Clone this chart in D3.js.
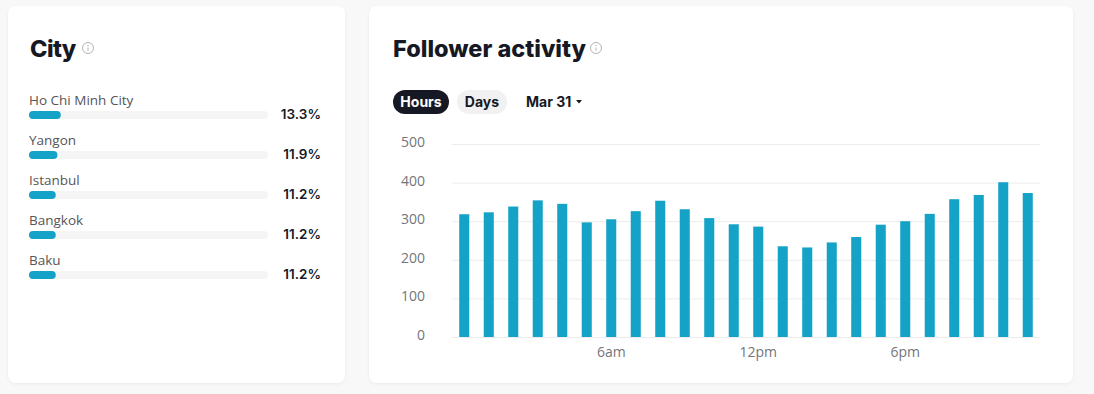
<!DOCTYPE html>
<html>
<head>
<meta charset="utf-8">
<script src="https://cdn.jsdelivr.net/npm/d3@7"></script>
<style>
  html, body { margin: 0; padding: 0; background: #f8f8f8; }
  svg { display: block; }
  .title { font-family: Inter, "Noto Sans", sans-serif; font-weight: 800; fill: #161823; }
  .axis-label { font-family: "Open Sans", sans-serif; font-size: 14px; fill: #73757b; }
  .city-label { font-family: "Open Sans", sans-serif; font-size: 13.5px; fill: #555; }
  .pct-label { font-family: Inter, "Noto Sans", sans-serif; font-size: 13.5px; font-weight: 600; fill: #161823; }
  .btn { font-family: Inter, "Noto Sans", sans-serif; font-size: 14px; font-weight: 700; }
</style>
</head>
<body>
<div id="chart"></div>
<script>
const cities = ["Ho Chi Minh City", "Yangon", "Istanbul", "Bangkok", "Baku"]
const cityShares = [13.3, 11.9, 11.2, 11.2, 11.2]

const hours = d3.range(24)
const followers = [318, 323, 338, 354, 345, 297, 305, 326, 353, 331, 308, 292,
                   286, 235, 232, 245, 259, 291, 300, 319, 357, 368, 401, 373]
const yTicks = [0, 100, 200, 300, 400, 500]
const hourLabels = {6: "6am", 12: "12pm", 18: "6pm"}

const BAR_COLOR = "#14a3c7"
const W = 1094, H = 394

const svg = d3.select("#chart").append("svg")
  .attr("width", W)
  .attr("height", H)

const defs = svg.append("defs")
const shadow = defs.append("filter").attr("id", "shadow")
  .attr("x", "-5%").attr("y", "-5%").attr("width", "110%").attr("height", "110%")
shadow.append("feDropShadow")
  .attr("dx", 0).attr("dy", 1).attr("stdDeviation", 1.5)
  .attr("flood-color", "#000").attr("flood-opacity", 0.06)

function card(x, y, w, h) {
  svg.append("rect")
    .attr("x", x).attr("y", y)
    .attr("width", w).attr("height", h)
    .attr("rx", 8)
    .attr("fill", "#fff")
    .attr("filter", "url(#shadow)")
}

function infoIcon(g, cx, cy) {
  g.append("circle")
    .attr("cx", cx).attr("cy", cy).attr("r", 5.5)
    .attr("fill", "none").attr("stroke", "#b4b4b8").attr("stroke-width", 1)
  g.append("line")
    .attr("x1", cx).attr("x2", cx).attr("y1", cy - 0.5).attr("y2", cy + 2.8)
    .attr("stroke", "#b4b4b8").attr("stroke-width", 1)
  g.append("circle")
    .attr("cx", cx).attr("cy", cy - 2.5).attr("r", 0.7)
    .attr("fill", "#b4b4b8")
}

card(8, 6, 337, 377)
card(369, 6, 704, 377)

/*********************************************
// City card
*********************************************/
const cityG = svg.append("g")

cityG.append("text")
  .classed("title", true)
  .attr("x", 30).attr("y", 57)
  .attr("font-size", "23.5px")
  .attr("letter-spacing", "-0.6px")
  .text("City")
infoIcon(cityG, 88, 48)

const shareScale = d3.scaleLinear().domain([0, 100]).range([0, 239])
const rowY = d3.scaleLinear().domain([0, 1]).range([100, 140])

const rows = cityG.selectAll("g.city-row")
  .data(cities.map((c, i) => ({city: c, share: cityShares[i]}))).enter()
  .append("g")
  .classed("city-row", true)
  .attr("transform", (_, i) => `translate(29,${rowY(i)})`)

rows.append("text")
  .classed("city-label", true)
  .attr("x", 0).attr("y", 5)
  .text((d) => d.city)

rows.append("rect")
  .attr("x", 0).attr("y", 11)
  .attr("width", shareScale(100)).attr("height", 8)
  .attr("rx", 4)
  .attr("fill", "#f5f5f6")

rows.append("rect")
  .attr("x", 0).attr("y", 11)
  .attr("width", (d) => shareScale(d.share)).attr("height", 8)
  .attr("rx", 4)
  .attr("fill", BAR_COLOR)

rows.append("text")
  .classed("pct-label", true)
  .attr("x", 292).attr("y", 19)
  .attr("text-anchor", "end")
  .text((d) => d.share.toFixed(1) + "%")

/*********************************************
// Follower activity card
*********************************************/
const actG = svg.append("g")

actG.append("text")
  .classed("title", true)
  .attr("x", 393).attr("y", 57)
  .attr("font-size", "23.5px")
  .text("Follower activity")
infoIcon(actG, 596, 48)

// toggle buttons
actG.append("rect")
  .attr("x", 393).attr("y", 90).attr("width", 56).attr("height", 24)
  .attr("rx", 12).attr("fill", "#161823")
actG.append("text")
  .classed("btn", true)
  .attr("x", 421).attr("y", 107).attr("text-anchor", "middle")
  .attr("fill", "#fff")
  .text("Hours")
actG.append("rect")
  .attr("x", 457).attr("y", 90).attr("width", 50).attr("height", 24)
  .attr("rx", 12).attr("fill", "#f1f1f2")
actG.append("text")
  .classed("btn", true)
  .attr("x", 482).attr("y", 107).attr("text-anchor", "middle")
  .attr("fill", "#161823")
  .text("Days")
actG.append("text")
  .classed("btn", true)
  .attr("x", 526).attr("y", 107)
  .attr("fill", "#161823")
  .text("Mar 31")
actG.append("path")
  .attr("d", "M576,100 l6,0 l-3,3.5 z")
  .attr("fill", "#161823")

const x = d3.scaleBand()
  .domain(hours)
  .range([452, 1040])
  .paddingInner(0.59)
  .paddingOuter(0.295)

const y = d3.scaleLinear()
  .domain([0, 500])
  .range([337, 144])

actG.selectAll("line.grid-line")
  .data(yTicks).enter()
  .append("line")
  .classed("grid-line", true)
  .attr("x1", 452).attr("x2", 1040)
  .attr("y1", (d) => y(d) + 0.5).attr("y2", (d) => y(d) + 0.5)
  .attr("stroke", "#ececec")
  .attr("stroke-width", 1)

actG.selectAll("text.y-label")
  .data(yTicks).enter()
  .append("text")
  .classed("axis-label", true)
  .attr("x", 425)
  .attr("y", (d) => y(d) + 3)
  .attr("text-anchor", "end")
  .text((d) => d)

actG.selectAll("rect.bar")
  .data(followers).enter()
  .append("rect")
  .classed("bar", true)
  .attr("x", (_, i) => x(hours[i]))
  .attr("y", (d) => y(d))
  .attr("width", x.bandwidth())
  .attr("height", (d) => y(0) - y(d))
  .attr("fill", BAR_COLOR)

actG.selectAll("text.x-label")
  .data(Object.keys(hourLabels)).enter()
  .append("text")
  .classed("axis-label", true)
  .attr("x", (d) => x(+d) + x.bandwidth() / 2)
  .attr("y", 357)
  .attr("text-anchor", "middle")
  .text((d) => hourLabels[d])
</script>
</body>
</html>
